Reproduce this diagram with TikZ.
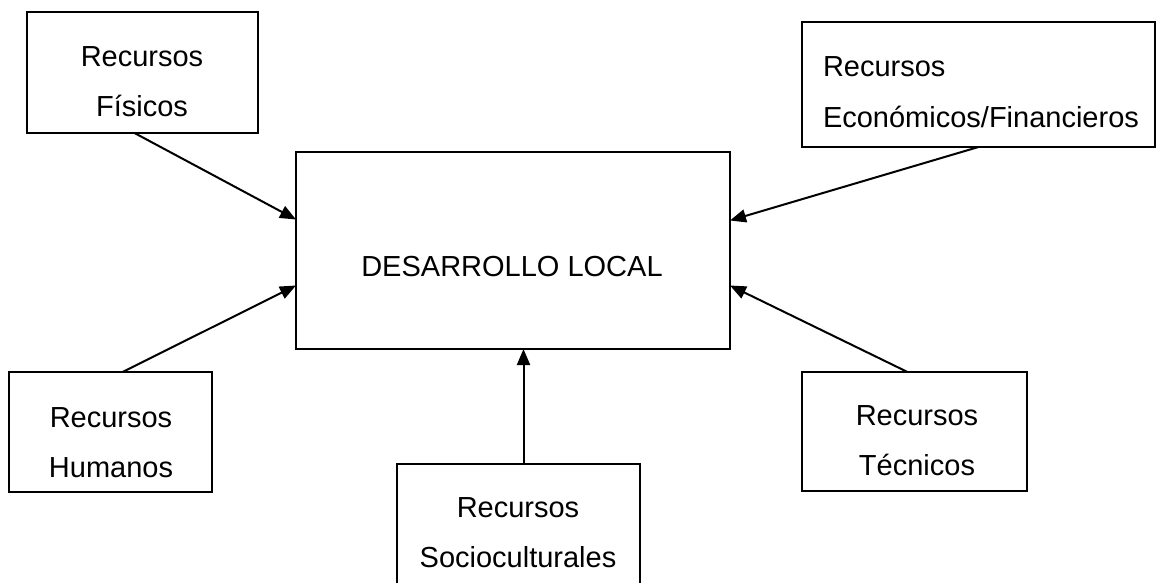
\documentclass[tikz,border=0pt]{standalone}
\usepackage{fontspec}
\setmainfont{Liberation Sans}
\usetikzlibrary{calc,fit,arrows.meta}
\tikzset{%
  >={Triangle[length=8pt,width=6.5pt]}, % filled arrow heads
  resource box/.style={draw,line width=1.2pt,inner sep=0pt,outer sep=0pt},%
  resource text/.style={inner sep=0pt,outer sep=0pt,anchor=base,align=center,
    font=\fontsize{14.5}{25}\selectfont},%
  link/.style={->,line width=1pt,shorten >=0pt}%
}
\begin{document}
\begin{tikzpicture}[x=0.5pt,y=-0.5pt] % one unit = one pixel of the reference

\useasboundingbox (0,0) rectangle (1157,583);
\clip (0,0) rectangle (1157,583);

% the boxes
\node[resource box, fit={(296,152) (730,349)}] (local) {};
\node[resource box, fit={(27,12) (258,133)}] (fisicos) {};
\node[resource box, fit={(802,22) (1155,147)}] (economicos) {};
\node[resource box, fit={(9,372) (212,492)}] (humanos) {};
\node[resource box, fit={(397,464) (640,600)}] (socioculturales) {};
\node[resource box, fit={(802,372) (1027,491)}] (tecnicos) {};

% the texts (base = baseline of the last line)
\node[resource text] (localText) at (512,276) {DESARROLLO LOCAL};
\node[resource text] (fisicosText) at (142,117) {Recursos\\Físicos};
\node[resource text, anchor=base west, align=left] (economicosText) at (823,127)
  {Recursos\\Económicos/Financieros};
\node[resource text] (humanosText) at (111,477) {Recursos\\Humanos};
\node[resource text] (socioculturalesText) at (518,567) {Recursos\\Socioculturales};
\node[resource text] (tecnicosText) at (917,475) {Recursos\\Técnicos};

% the arrows
\coordinate (socTop) at ($(socioculturales.north)+(5,0)$);
\draw[link] ($(fisicos.south)+(-8,0)$) -- ($(local.west)+(0,-31)$);
\draw[link] (economicos.south) -- ($(local.east)+(0,-30)$);
\draw[link] ($(humanos.north)+(12,0)$) -- ($(local.west)+(0,35)$);
\draw[link] ($(tecnicos.north)+(-7,0)$) -- ($(local.east)+(0,35)$);
\draw[link] (socTop) -- (socTop |- local.south);

\end{tikzpicture}
\end{document}
